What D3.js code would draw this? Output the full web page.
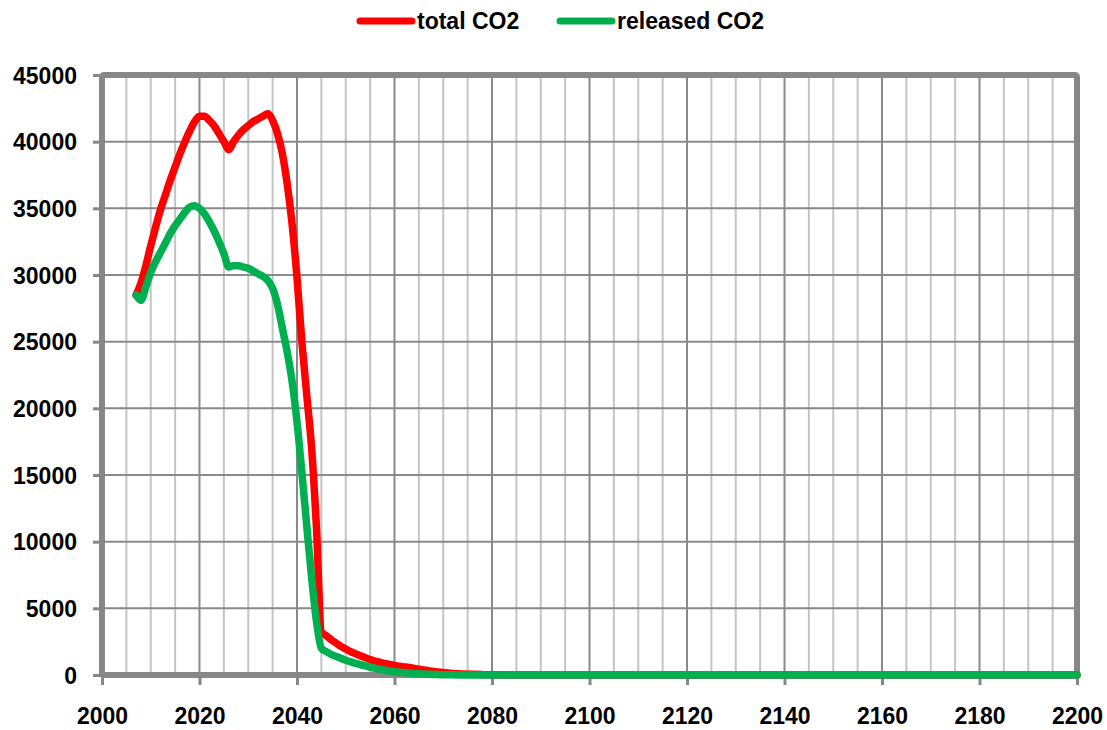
<!DOCTYPE html>
<html>
<head>
<meta charset="utf-8">
<script src="https://cdn.jsdelivr.net/npm/d3@7"></script>
<style>
  body { margin: 0; background: #fff; }
  text { font-family: "Liberation Sans", Arial, sans-serif; font-weight: bold; fill: #000; }
</style>
</head>
<body>
<svg class="viz" width="1107" height="730"></svg>
<script>
// years of the data points (annual until 2070, then sparse)
var years = [
  2007, 2008, 2009, 2010, 2011, 2012, 2013, 2014, 2015, 2016,
  2017, 2018, 2019, 2020, 2021, 2022, 2023, 2024, 2025, 2026,
  2027, 2028, 2029, 2030, 2031, 2032, 2033, 2034, 2035, 2036,
  2037, 2038, 2039, 2040, 2041, 2042, 2043, 2044, 2045, 2046,
  2047, 2048, 2049, 2050, 2051, 2052, 2053, 2054, 2055, 2056,
  2057, 2058, 2059, 2060, 2061, 2062, 2063, 2064, 2065, 2066,
  2067, 2068, 2069, 2070, 2072, 2074, 2076, 2078, 2080, 2085,
  2090, 2100, 2120, 2140, 2160, 2180, 2200
];

var totalCO2 = [
  28500, 29400, 30700, 32200, 33600, 34900, 36000, 37100, 38100, 39100,
  40000, 40800, 41500, 41900, 41900, 41600, 41200, 40600, 40000, 39400,
  40000, 40500, 40900, 41200, 41500, 41700, 41900, 42100, 41600, 40600,
  39100, 36800, 33800, 29800, 25000, 21000, 17000, 11000, 3200, 2950,
  2650, 2400, 2150, 1950, 1750, 1600, 1450, 1300, 1150, 1050,
  950, 870, 790, 720, 660, 610, 560, 500, 440, 380,
  320, 270, 220, 180, 120, 80, 50, 30, 15, 5,
  0, 0, 0, 0, 0, 0, 0
];

var releasedCO2 = [
  28500, 28100, 29100, 30200, 31000, 31700, 32400, 33100, 33700, 34200,
  34700, 35100, 35200, 35000, 34600, 34000, 33300, 32500, 31600, 30600,
  30700, 30700, 30600, 30500, 30300, 30100, 29900, 29600, 29000, 27800,
  26000, 24200, 22000, 19000, 15200, 11200, 7300, 4000, 2000, 1750,
  1550, 1400, 1250, 1100, 980, 880, 780, 680, 590, 500,
  430, 360, 300, 250, 210, 170, 140, 110, 90, 70,
  55, 40, 30, 20, 10, 5, 0, 0, 0, 0,
  0, 0, 0, 0, 0, 0, 0
];

var seriesNames = ["total CO2", "released CO2"];
var seriesColors = ["#ff0000", "#00b050"];

var xTicks = [2000, 2020, 2040, 2060, 2080, 2100, 2120, 2140, 2160, 2180, 2200];
var yTicks = [0, 5000, 10000, 15000, 20000, 25000, 30000, 35000, 40000, 45000];

var svg = d3.select(".viz"),
    margin = {top: 75, right: 30, bottom: 55, left: 102},
    width = svg.attr("width") - margin.left - margin.right,
    height = svg.attr("height") - margin.top - margin.bottom;

var x = d3.scaleLinear().domain([2000, 2200]).range([0, width]);
var y = d3.scaleLinear().domain([0, 45000]).range([height, 0]);

var g = svg.append("g")
    .attr("transform", "translate(" + margin.left + "," + margin.top + ")");

// vertical grid every 5 years, darker every 20
var minorYears = d3.range(2005, 2200, 5);
g.append("g").selectAll("line")
    .data(minorYears)
  .enter().append("line")
    .attr("x1", function(d) { return x(d); })
    .attr("x2", function(d) { return x(d); })
    .attr("y1", 0)
    .attr("y2", height)
    .style("stroke", function(d) { return d % 20 == 0 ? "#8a8a8a" : "#c4c4c4"; })
    .style("stroke-width", 2);

// horizontal grid
g.append("g").selectAll("line")
    .data(yTicks.slice(1, -1))
  .enter().append("line")
    .attr("x1", 0)
    .attr("x2", width)
    .attr("y1", function(d) { return y(d); })
    .attr("y2", function(d) { return y(d); })
    .style("stroke", "#8a8a8a")
    .style("stroke-width", 2);

// axes
var yAxis = g.append("g")
    .call(d3.axisLeft(y).tickValues(yTicks).tickSize(9).tickPadding(16).tickFormat(d3.format("d")));
var xAxis = g.append("g")
    .attr("transform", "translate(0," + height + ")")
    .call(d3.axisBottom(x).tickValues(xTicks).tickSize(10).tickFormat(d3.format("d")));

svg.selectAll(".domain").remove();
svg.selectAll(".tick line").style("stroke", "#878787").style("stroke-width", 3);
svg.selectAll(".tick text").style("font-size", "23px").style("font-family", "Liberation Sans, Arial, sans-serif").style("font-weight", "bold");
yAxis.selectAll(".tick text").attr("x", -25).attr("dy", "0.36em");
xAxis.selectAll(".tick text").attr("y", 49).attr("dy", 0);

// frame
g.append("rect")
    .attr("x", 0).attr("y", 0)
    .attr("width", width).attr("height", height)
    .attr("rx", 2)
    .style("fill", "none")
    .style("stroke", "#878787")
    .style("stroke-width", 6)
    .style("stroke-linejoin", "round");

// lines
var line = d3.line()
    .x(function(d) { return x(d[0]); })
    .y(function(d) { return y(d[1]); })
    .curve(d3.curveMonotoneX);

[totalCO2, releasedCO2].forEach(function(vals, i) {
  g.append("path")
      .datum(years.map(function(yr, j) { return [yr, vals[j]]; }))
      .attr("d", line)
      .style("fill", "none")
      .style("stroke", seriesColors[i])
      .style("stroke-width", 7.5)
      .style("stroke-linecap", "round")
      .style("stroke-linejoin", "round");
});

// legend
var legendX = [357, 557];
var legend = svg.append("g").selectAll("g")
    .data(seriesNames)
  .enter().append("g")
    .attr("transform", function(d, i) { return "translate(" + legendX[i] + ",21)"; });

legend.append("line")
    .attr("x1", 3).attr("x2", 55)
    .attr("y1", 0).attr("y2", 0)
    .style("stroke", function(d, i) { return seriesColors[i]; })
    .style("stroke-width", 7)
    .style("stroke-linecap", "round");

legend.append("text")
    .attr("x", 60)
    .attr("y", 8)
    .attr("font-size", "23px")
    .text(function(d) { return d; });
</script>
</body>
</html>
